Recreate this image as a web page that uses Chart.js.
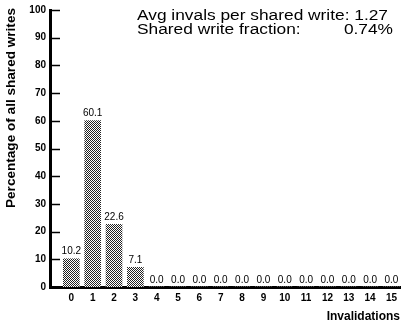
<!DOCTYPE html>
<html>
<head>
<meta charset="utf-8">
<script src="https://cdn.jsdelivr.net/npm/chart.js@4"></script>
<style>
  html, body { margin: 0; padding: 0; background: #fff; }
</style>
</head>
<body>
<canvas id="invalChart" width="403" height="325"></canvas>
<script>
const invalCounts = [0, 1, 2, 3, 4, 5, 6, 7, 8, 9, 10, 11, 12, 13, 14, 15];
const sharePct = [10.2, 60.1, 22.6, 7.1, 0.0, 0.0, 0.0, 0.0, 0.0, 0.0, 0.0, 0.0, 0.0, 0.0, 0.0, 0.0];
const yTicks = [0, 10, 20, 30, 40, 50, 60, 70, 80, 90, 100];
const yTitle = 'Percentage of all shared writes';
const xTitle = 'Invalidations';
const statLines = [
    ['Avg invals per shared write:', '1.27'],
    ['Shared write fraction:', '0.74%'],
];

const FONT = '"Liberation Sans", Arial, sans-serif';

// dithered grey fill
function makeStipple() {
    const c = document.createElement('canvas');
    c.width = 4; c.height = 4;
    const g = c.getContext('2d');
    g.fillStyle = '#fff';
    g.fillRect(0, 0, 4, 4);
    g.fillStyle = '#222';
    const dots = [[0,0],[2,0],[1,1],[3,1],[0,2],[2,2],[1,3],[3,3]];
    dots.forEach(d => g.fillRect(d[0], d[1], 1, 1));
    return g.createPattern(c, 'repeat');
}

// draw text stretched along its baseline to a given width
function stretchText(c, text, x, y, width, align) {
    const w = c.measureText(text).width;
    const sx = width / w;
    c.save();
    c.translate(x, y);
    c.scale(sx, 1);
    c.textAlign = align;
    c.fillText(text, 0, 0);
    c.restore();
}

const points = invalCounts.map((x, i) => ({ x: x, y: sharePct[i] }));

// value labels, inward y ticks, y title and the stats text
const extras = {
    id: 'extras',
    afterDatasetsDraw(chart) {
        const c = chart.ctx;
        const meta = chart.getDatasetMeta(0);
        const ys = chart.scales.y;
        const area = chart.chartArea;
        c.save();
        c.fillStyle = '#000';
        c.font = '10px ' + FONT;
        c.textAlign = 'center';
        c.textBaseline = 'bottom';
        meta.data.forEach((bar, i) => {
            c.fillText(sharePct[i].toFixed(1), bar.x, bar.y - 2);
        });

        c.strokeStyle = '#000';
        c.lineWidth = 1.5;
        yTicks.forEach(v => {
            const py = Math.round(ys.getPixelForValue(v)) + 0.5;
            c.beginPath();
            c.moveTo(area.left, py);
            c.lineTo(area.left + 10, py);
            c.stroke();
        });

        c.save();
        c.translate(12, 108);
        c.rotate(-Math.PI / 2);
        c.font = 'bold 12px ' + FONT;
        c.textBaseline = 'middle';
        stretchText(c, yTitle, 0, 0, 200, 'center');
        c.restore();

        c.font = '14px ' + FONT;
        c.textBaseline = 'alphabetic';
        const line1 = statLines[0][0] + ' ' + statLines[0][1];
        const sx = 251 / c.measureText(line1).width;
        stretchText(c, line1, 137, 20, 251, 'left');
        const lbl2 = statLines[1][0];
        stretchText(c, lbl2, 137, 34, c.measureText(lbl2).width * sx, 'left');
        const val2 = statLines[1][1];
        stretchText(c, val2, 393, 34, c.measureText(val2).width * sx, 'right');
        c.restore();
    }
};

new Chart(document.getElementById('invalChart'), {
    type: 'bar',
    data: {
        datasets: [{
            data: points,
            backgroundColor: makeStipple(),
            borderWidth: 0,
            barThickness: 16,
        }]
    },
    options: {
        responsive: false,
        animation: false,
        events: [],
        layout: { padding: { top: 4, right: 3, left: 0, bottom: 0 } },
        plugins: {
            legend: { display: false },
            tooltip: { enabled: false },
        },
        scales: {
            x: {
                type: 'linear',
                min: -1,
                max: 15.4,
                offset: false,
                grid: { display: false, drawTicks: false },
                border: { display: true, width: 3, color: '#000' },
                afterBuildTicks: s => { s.ticks = invalCounts.map(v => ({ value: v })); },
                afterFit: s => { s.height = 38; },
                ticks: {
                    color: '#000',
                    padding: 5,
                    autoSkip: false,
                    maxRotation: 0,
                    font: { family: FONT, size: 10, weight: 'bold' },
                },
                title: {
                    display: true,
                    text: xTitle,
                    align: 'end',
                    color: '#000',
                    padding: { top: 0, bottom: 1 },
                    font: { family: FONT, size: 12, weight: 'bold' },
                },
            },
            y: {
                min: 0,
                max: 100,
                grid: { display: false, drawTicks: false },
                border: { display: true, width: 3, color: '#000' },
                afterBuildTicks: s => { s.ticks = yTicks.map(v => ({ value: v })); },
                afterFit: s => { s.width = 50; },
                ticks: {
                    color: '#000',
                    padding: 4,
                    font: { family: FONT, size: 10, weight: 'bold' },
                },
            },
        },
    },
    plugins: [extras],
});
</script>
</body>
</html>
